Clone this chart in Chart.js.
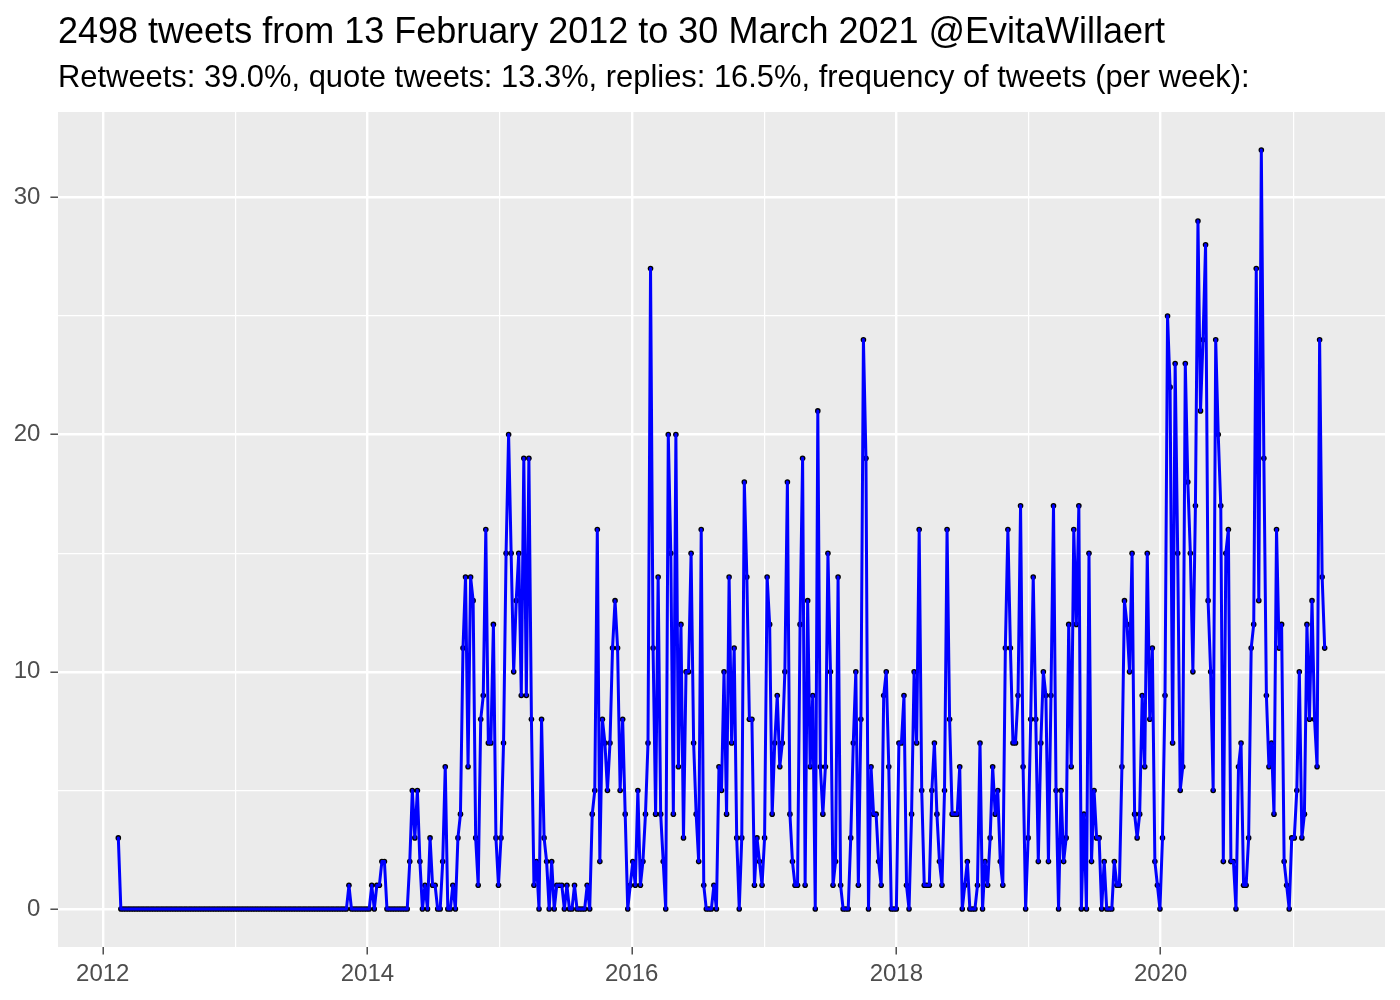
<!DOCTYPE html>
<html>
<head>
<meta charset="utf-8">
<script src="https://cdn.jsdelivr.net/npm/chart.js@4.4.1/dist/chart.umd.min.js"></script>
<style>
  body { margin: 0; background: #fff; }
  #wrap { position: relative; width: 1400px; height: 1000px; }
  canvas { position: absolute; left: 0; top: 0; }
  .head { position: absolute; left: 58px; font-family: "Liberation Sans", Arial, sans-serif; color: #000; white-space: nowrap; }
  #title { top: 13px; font-size: 36px; line-height: 36px; }
  #subtitle { top: 62px; font-size: 30.9px; line-height: 30px; }
</style>
</head>
<body>
<div id="wrap">
  <canvas id="tweetChart" width="1400" height="1000"></canvas>
  <div class="head" id="title">2498 tweets from 13 February 2012 to 30 March 2021 @EvitaWillaert</div>
  <div class="head" id="subtitle">Retweets: 39.0%, quote tweets: 13.3%, replies: 16.5%, frequency of tweets (per week):</div>
</div>
<script>
// first week of the series, one value per week after that
const firstWeek = Date.UTC(2012, 1, 13);

const weeklyTweets = [
  3,
  // 2012 - 2013
  0, 0, 0, 0, 0, 0, 0, 0, 0, 0, 0, 0, 0, 0, 0, 0, 0, 0, 0, 0,
  0, 0, 0, 0, 0, 0, 0, 0, 0, 0, 0, 0, 0, 0, 0, 0, 0, 0, 0, 0,
  0, 0, 0, 0, 0, 0, 0, 0, 0, 0, 0, 0, 0, 0, 0, 0, 0, 0, 0, 0,
  0, 0, 0, 0, 0, 0, 0, 0, 0, 0, 0, 0, 0, 0, 0, 0, 0, 0, 0, 0,
  0, 0, 0, 0, 0, 0, 0, 0, 0, 0,
  1, 0, 0, 0, 0, 0, 0, 0, 0,
  // 2014
  1, 0, 1, 1, 2, 2, 0, 0, 0, 0, 0, 0, 0, 0, 0,
  2, 5, 3, 5, 2, 0, 1, 0, 3, 1, 1, 0, 0, 2, 6, 0, 0, 1, 0, 3, 4,
  11, 14, 6, 14, 13, 3, 1, 8, 9, 16, 7, 7, 12, 3, 1, 3, 7, 15,
  // 2015
  20, 15, 10, 13, 15, 9, 19, 9, 19, 8, 1, 2, 0, 8, 3, 2, 0, 2, 0, 1,
  1, 1, 0, 1, 0, 0, 1, 0, 0, 0, 0, 1, 0, 4, 5, 16, 2, 8, 7, 5,
  7, 11, 13, 11, 5, 8, 4, 0, 1, 2, 1, 5, 1, 2, 4, 7,
  // 2016
  27, 11, 4, 14, 4, 2, 0, 20, 15, 4, 20, 6, 12, 3, 10, 10, 15, 7, 4, 2,
  16, 1, 0, 0, 0, 1, 0, 6, 5, 10, 4, 14, 7, 11, 3, 0, 3, 18, 14, 8,
  8, 1, 3, 2, 1, 3,
  // 2017
  14, 12, 4, 7, 9, 6, 7, 10, 18, 4, 2, 1, 1, 12, 19, 1, 13, 6, 9, 0,
  21, 6, 4, 6, 15, 10, 1, 2, 14, 1, 0, 0, 0, 3, 7, 10, 1, 8, 24, 19,
  0, 6, 4, 4, 2, 1, 9, 10, 6, 0, 0, 0,
  // 2018
  7, 7, 9, 1, 0, 4, 10, 7, 16, 5, 1, 1, 1, 5, 7, 4, 2, 1, 5, 16,
  8, 4, 4, 4, 6, 0, 1, 2, 0, 0, 0, 1, 7, 0, 2, 1, 3, 6, 4, 5,
  2, 1, 11, 16, 11, 7, 7, 9, 17, 6,
  // 2019
  0, 3, 8, 14, 8, 2, 7, 10, 9, 2, 9, 17, 5, 0, 5, 2, 3, 12, 6, 16,
  12, 17, 0, 4, 0, 15, 2, 5, 3, 3, 0, 2, 0, 0, 0, 2, 1, 1, 6, 13,
  12, 10, 15, 4, 3, 4, 9, 6, 15, 8, 11, 2, 1, 0,
  // 2020
  3, 9, 25, 22, 7, 23, 15, 5, 6, 23, 18, 15, 10, 17, 29, 21, 24, 28, 13, 10,
  5, 24, 20, 17, 2, 15, 16, 2, 2, 0, 6, 7, 1, 1, 3, 11, 12, 27, 13, 32,
  19, 9, 6, 7, 4, 16, 11, 12, 2, 1, 0,
  // 2021
  3, 3, 5, 10, 3, 4, 12, 8, 13, 8, 6, 24, 14, 11
];

const yearTicks = [2012, 2013, 2014, 2015, 2016, 2017, 2018, 2019, 2020, 2021];
const yearLabels = [2012, 2014, 2016, 2018, 2020];
const countTicks = [0, 5, 10, 15, 20, 25, 30];
const countLabels = [0, 10, 20, 30];

const DAY = 86400000;
const weekDates = weeklyTweets.map((v, i) => firstWeek + i * 7 * DAY);
const points = weeklyTweets.map((v, i) => ({ x: weekDates[i], y: v }));
const lastWeek = weekDates[weekDates.length - 1];
const span = lastWeek - firstWeek;

const tickFont = { family: '"Liberation Sans", Arial, sans-serif', size: 24 };

function yearOf(v) {
    return new Date(v).getUTCFullYear();
}

const panelBg = {
    id: 'panelBg',
    beforeDraw(chart) {
        const { ctx, chartArea: a } = chart;
        ctx.save();
        ctx.fillStyle = '#EBEBEB';
        ctx.fillRect(a.left, a.top, a.right - a.left, a.bottom - a.top);
        ctx.restore();
    }
};

new Chart(document.getElementById('tweetChart').getContext('2d'), {
    type: 'line',
    data: {
        datasets: [
            {
                data: points,
                borderColor: '#0000FF',
                borderWidth: 3,
                borderJoinStyle: 'round',
                borderCapStyle: 'round',
                pointRadius: 0,
                tension: 0,
                order: 1
            },
            {
                data: points,
                showLine: false,
                pointRadius: 2.8,
                pointBackgroundColor: '#000000',
                pointBorderWidth: 0,
                order: 2
            }
        ]
    },
    options: {
        responsive: false,
        animation: false,
        devicePixelRatio: 1,
        layout: { padding: { top: 112, right: 15, left: 0, bottom: 0 } },
        plugins: {
            legend: { display: false },
            tooltip: { enabled: false }
        },
        scales: {
            x: {
                type: 'linear',
                min: firstWeek - 0.05 * span,
                max: lastWeek + 0.05 * span,
                afterBuildTicks: s => { s.ticks = yearTicks.map(y => ({ value: Date.UTC(y, 0, 1) })); },
                afterFit: s => { s.height = 53; },
                border: { display: false },
                grid: {
                    color: '#FFFFFF',
                    lineWidth: c => (c.tick && yearLabels.includes(yearOf(c.tick.value))) ? 2.4 : 1.2,
                    tickLength: 7.6,
                    tickWidth: 1.3,
                    tickColor: c => (c.tick && yearLabels.includes(yearOf(c.tick.value))) ? '#333333' : 'rgba(0,0,0,0)'
                },
                ticks: {
                    autoSkip: false,
                    maxRotation: 0,
                    padding: 5,
                    color: '#4D4D4D',
                    font: tickFont,
                    callback: v => yearLabels.includes(yearOf(v)) ? String(yearOf(v)) : ''
                }
            },
            y: {
                min: -1.6,
                max: 33.6,
                afterBuildTicks: s => { s.ticks = countTicks.map(v => ({ value: v })); },
                afterFit: s => { s.width = 58; },
                border: { display: false },
                grid: {
                    color: '#FFFFFF',
                    lineWidth: c => (c.tick && countLabels.includes(c.tick.value)) ? 2.4 : 1.2,
                    tickLength: 7.6,
                    tickWidth: 1.3,
                    tickColor: c => (c.tick && countLabels.includes(c.tick.value)) ? '#333333' : 'rgba(0,0,0,0)'
                },
                ticks: {
                    padding: 10,
                    color: '#4D4D4D',
                    font: tickFont,
                    callback: v => countLabels.includes(v) ? String(v) : ''
                }
            }
        }
    },
    plugins: [panelBg]
});
</script>
</body>
</html>
